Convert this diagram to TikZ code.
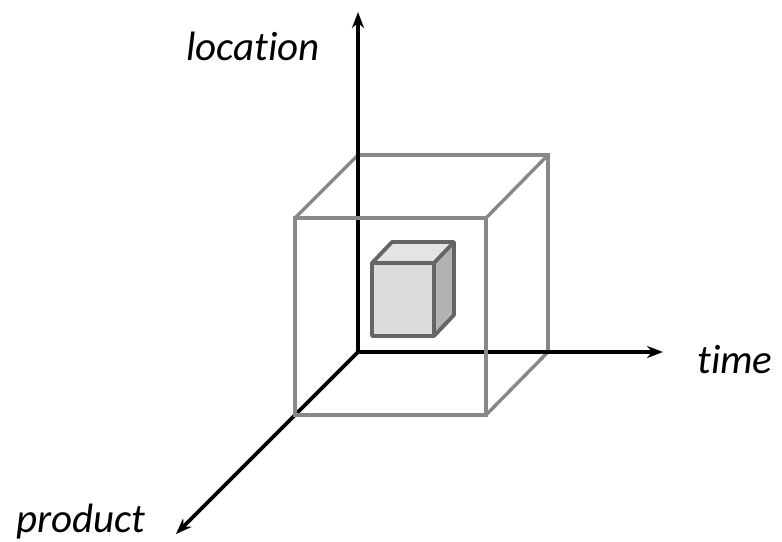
\documentclass[tikz,border=0pt]{standalone}
\usepackage{fontspec}
\setmainfont{Carlito}[Ligatures=NoCommon]
\usetikzlibrary{arrows.meta}
\definecolor{biggray}{HTML}{888888}
\definecolor{smallstroke}{HTML}{656565}
\definecolor{frontfill}{HTML}{DCDCDC}
\definecolor{topfill}{HTML}{E4E4E4}
\definecolor{sidefill}{HTML}{B2B2B2}
\tikzset{
  axisline/.style={line width=3.6pt, black, -{Stealth[length=16pt,width=12pt]}},
  bigedge/.style={line width=3.4pt, biggray, line join=miter},
  smalledge/.style={line width=3.8pt, smallstroke, line join=round},
  axislabel/.style={font=\fontsize{41}{45}\selectfont\itshape, inner sep=0pt, anchor=base}
}
\begin{document}
\begin{tikzpicture}[x=1pt,y=-1pt]
\useasboundingbox (0,0) rectangle (782,541);
% big cube coordinates
\coordinate (F1) at (295,218);
\coordinate (F2) at (486,218);
\coordinate (F3) at (486,415);
\coordinate (F4) at (295,415);
\coordinate (B1) at (358,155);
\coordinate (B2) at (548,155);
\coordinate (B3) at (548,352);
\coordinate (B4) at (358,352);
% back face and connecting edges (under the axes)
\draw[bigedge] (B1) -- (B2) -- (B3) -- (B4) -- cycle;
\draw[bigedge] (F1) -- (B1);
\draw[bigedge] (F2) -- (B2);
\draw[bigedge] (F3) -- (B3);
\draw[bigedge] (F4) -- (B4);
% axes
\coordinate (O) at (358,352);
\coordinate (Y) at (358,12);
\coordinate (X) at (663,352);
\coordinate (P) at (176,534);
\draw[axisline] (O) -- (Y);
\draw[axisline] (O) -- (X);
\draw[axisline] (O) -- (P);
% front face (over the axes)
\draw[bigedge] (F1) -- (F2) -- (F3) -- (F4) -- cycle;
% small cube
\coordinate (s1) at (372,263);
\coordinate (s2) at (434,263);
\coordinate (s3) at (434,336);
\coordinate (s4) at (372,336);
\coordinate (t1) at (392,242);
\coordinate (t2) at (454,242);
\coordinate (t3) at (454,315);
\fill[topfill] (s1) -- (t1) -- (t2) -- (s2) -- cycle;
\fill[sidefill] (s2) -- (t2) -- (t3) -- (s3) -- cycle;
\fill[frontfill] (s1) -- (s2) -- (s3) -- (s4) -- cycle;
\draw[smalledge] (s1) -- (t1) -- (t2) -- (t3) -- (s3) -- (s4) -- cycle;
\draw[smalledge] (s1) -- (s2) -- (s3);
\draw[smalledge] (s2) -- (t2);
% labels
\node[axislabel] (loc) at (253,60) {location};
\node[axislabel] (tim) at (735,373) {time};
\node[axislabel] (prod) at (81,532) {product};
\end{tikzpicture}
\end{document}
